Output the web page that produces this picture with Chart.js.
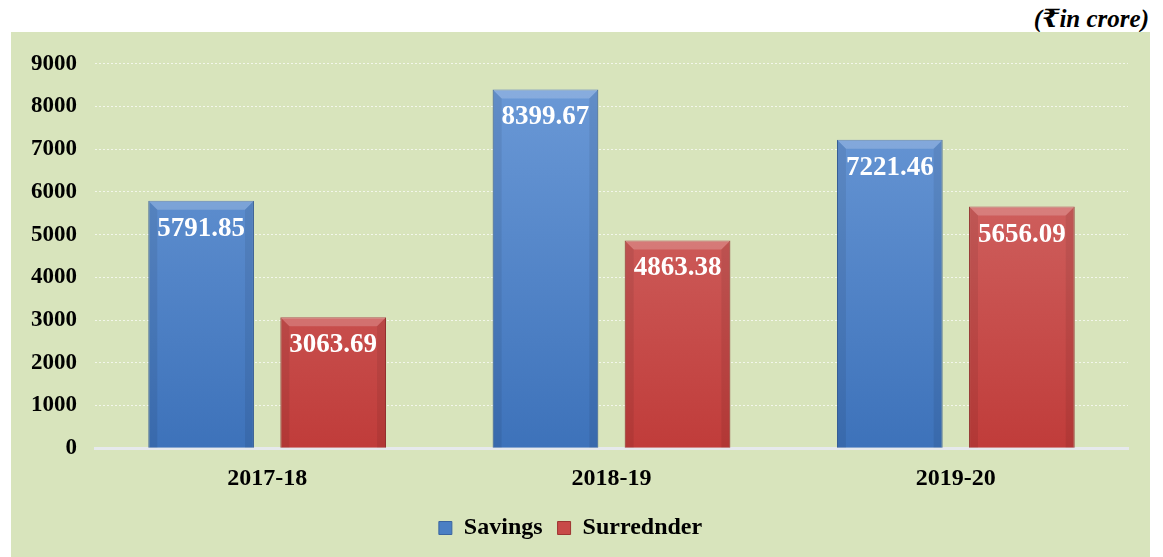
<!DOCTYPE html>
<html lang="en">
<head>
    <meta charset="UTF-8">
    <title>Savings and Surrender</title>
    <style>
        body {
          margin: 0;
          padding: 0;
          background: #fff;
          width: 1163px;
          height: 557px;
          position: relative;
          overflow: hidden;
          font-family: "Liberation Serif", "DejaVu Serif", serif;
        }

        .unit {
          position: absolute;
          right: 14px;
          top: 4px;
          font-size: 25px;
          font-weight: bold;
          font-style: italic;
          color: #000;
        }

        .panel {
          position: absolute;
          left: 11px;
          top: 32px;
          width: 1139px;
          height: 525px;
          background: #d8e4bc;
        }
    </style>
</head>
<body>
<div class="unit">(₹in crore)</div>
<div class="panel">
    <canvas id="savingsChart" width="1139" height="525"></canvas>
</div>

<script src="https://cdn.jsdelivr.net/npm/chart.js"></script>
<script>
    // chart data
    const years = ['2017-18', '2018-19', '2019-20'];
    const savings = [5791.85, 8399.67, 7221.46];
    const surrender = [3063.69, 4863.38, 5656.09];
    const yTicks = [0, 1000, 2000, 3000, 4000, 5000, 6000, 7000, 8000, 9000];

    const serif = '"Liberation Serif", "DejaVu Serif", serif';

    // vertical gradient for each bar
    function barFill(top, bottom) {
      return function (c) {
        const area = c.chart.chartArea;
        if (!area) return bottom;
        const g = c.chart.ctx.createLinearGradient(0, area.top, 0, area.bottom);
        g.addColorStop(0, top);
        g.addColorStop(1, bottom);
        return g;
      };
    }

    // bevel edges + value labels inside the bars
    const bevelLabels = {
      id: 'bevelLabels',
      afterDatasetsDraw(chart) {
        const ctx = chart.ctx;
        chart.data.datasets.forEach((ds, di) => {
          chart.getDatasetMeta(di).data.forEach((bar, i) => {
            const l = bar.x - bar.width / 2, r = bar.x + bar.width / 2;
            const t = bar.y, b = bar.base, e = 9;
            ctx.save();
            // top highlight
            ctx.fillStyle = 'rgba(255,255,255,0.2)';
            ctx.beginPath();
            ctx.moveTo(l, t); ctx.lineTo(r, t); ctx.lineTo(r - e, t + e); ctx.lineTo(l + e, t + e);
            ctx.closePath(); ctx.fill();
            // side shading
            ctx.fillStyle = 'rgba(0,0,0,0.07)';
            ctx.beginPath();
            ctx.moveTo(l, t); ctx.lineTo(l + e, t + e); ctx.lineTo(l + e, b); ctx.lineTo(l, b);
            ctx.closePath(); ctx.fill();
            ctx.beginPath();
            ctx.moveTo(r, t); ctx.lineTo(r - e, t + e); ctx.lineTo(r - e, b); ctx.lineTo(r, b);
            ctx.closePath(); ctx.fill();
            // label
            ctx.fillStyle = '#fff';
            ctx.font = 'bold 27px ' + serif;
            ctx.textAlign = 'center';
            ctx.textBaseline = 'middle';
            ctx.fillText(ds.data[i].toFixed(2), bar.x, t + 28);
            ctx.restore();
          });
        });
      }
    };

    const ctx = document.getElementById('savingsChart').getContext('2d');
    new Chart(ctx, {
      type: 'bar',
      data: {
        labels: years,
        datasets: [{
          label: 'Savings',
          data: savings,
          backgroundColor: barFill('#6d9bd8', '#3d72ba'),
          borderColor: '#3a64a0',
          borderWidth: 1,
          borderSkipped: 'bottom'
        }, {
          label: 'Surrednder',
          data: surrender,
          backgroundColor: barFill('#d67270', '#c03c3a'),
          borderColor: '#9e3432',
          borderWidth: 1,
          borderSkipped: 'bottom'
        }]
      },
      options: {
        responsive: false,
        animation: false,
        layout: { padding: { left: 2, right: 22, top: 20, bottom: 7 } },
        datasets: {
          bar: { categoryPercentage: 0.767, barPercentage: 0.8 }
        },
        scales: {
          x: {
            grid: { display: false },
            // zero baseline
            border: { display: true, color: '#e6e9ec', width: 3 },
            ticks: { color: '#000', font: { family: serif, size: 24, weight: 'bold' }, padding: 8 }
          },
          y: {
            min: 0,
            max: 9000,
            afterBuildTicks: (axis) => { axis.ticks = yTicks.map(v => ({ value: v })); },
            border: { display: false, dash: [2, 2] },
            grid: {
              color: (c) => c.tick && c.tick.value === 0 ? 'rgba(0,0,0,0)' : 'rgba(255,255,255,0.7)',
              drawTicks: false
            },
            ticks: {
              color: '#000',
              font: { family: serif, size: 23, weight: 'bold' },
              padding: 18,
              callback: (v) => String(v)
            }
          }
        },
        plugins: {
          legend: {
            position: 'bottom',
            labels: {
              color: '#000',
              font: { family: serif, size: 24, weight: 'bold' },
              boxWidth: 13,
              boxHeight: 13,
              padding: 15,
              generateLabels: (chart) => chart.data.datasets.map((ds, i) => ({
                text: ds.label,
                fillStyle: i === 0 ? '#4a7fc4' : '#c84a48',
                strokeStyle: i === 0 ? '#3a64a0' : '#9e3432',
                lineWidth: 1,
                datasetIndex: i
              }))
            }
          },
          tooltip: { enabled: false }
        }
      },
      plugins: [bevelLabels]
    });
</script>
</body>
</html>
